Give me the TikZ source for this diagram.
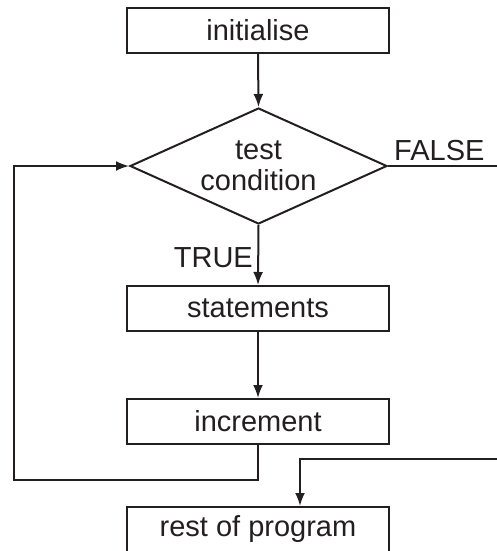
\documentclass[tikz,border=0pt]{standalone}
\usepackage{fontspec}
\setmainfont{Liberation Sans}
\usetikzlibrary{shapes.geometric,arrows.meta}
\definecolor{ink}{RGB}{35,31,32}
\begin{document}
\begin{tikzpicture}[x=1pt,y=-1pt,
  conn/.style={draw=ink,line width=2pt},
  lbl/.style={font=\fontsize{29}{31}\selectfont,text=ink,inner sep=0pt},
  procbox/.style={draw=ink,line width=2pt,rectangle,minimum width=262pt,minimum height=45pt,inner sep=0pt,font=\fontsize{29}{31}\selectfont,text=ink},
  decbox/.style={draw=ink,line width=2pt,diamond,aspect=2.2155,minimum width=257pt,minimum height=116pt,inner sep=0pt,align=center,font=\fontsize{29}{31}\selectfont,text=ink},
  arr/.style={conn,-{Latex[length=13pt,width=10pt]}}]
\useasboundingbox (0,0) rectangle (496,551);
\node[procbox] (init) at (258,30.5) {initialise};
\node[decbox] (test) at (258.5,166) {test\\condition};
\node[procbox] (stmt) at (258,308.5) {statements};
\node[procbox] (incr) at (258,421.5) {increment};
\node[procbox] (rest) at (258,529.5) {rest of program};
\node[lbl,anchor=base west] (false) at (394,160) {FALSE};
\node[lbl,anchor=base east] (true) at (253,267) {TRUE};
\coordinate (falseEnd) at (497,166);
\coordinate (restIn) at (497,459);
\coordinate (loopLeft) at (14,480);
\draw[arr] (init.south) -- (test.north);
\draw[arr] (test.south) -- (stmt.north);
\draw[arr] (stmt.south) -- (incr.north);
\draw[arr] (incr.south) |- (loopLeft) |- (test.west);
\draw[conn] (test.east) -- (falseEnd);
\draw[arr] (restIn) -| ([xshift=42pt]rest.north);
\end{tikzpicture}
\end{document}
